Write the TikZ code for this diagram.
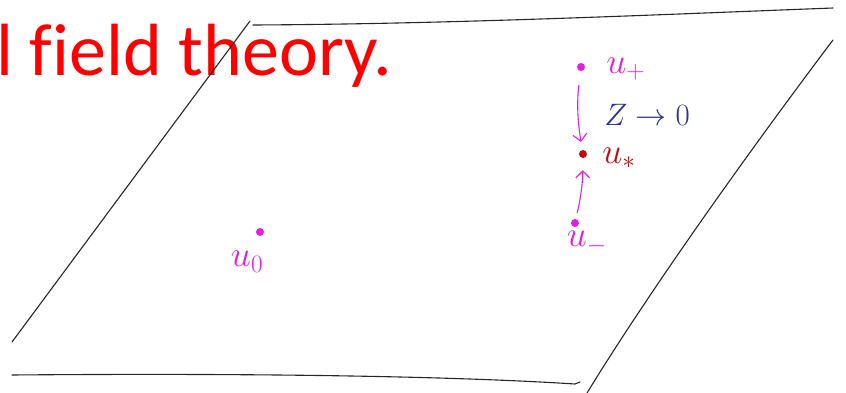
\documentclass[tikz,border=0pt]{standalone}
\usepackage{fix-cm}
\usepackage{fontspec}
\setmainfont{Carlito}[Ligatures=NoCommon]
\usetikzlibrary{arrows.meta,positioning}
\definecolor{titlered}{HTML}{FF0000}
\definecolor{pen}{HTML}{E41CE4}
\definecolor{fixred}{HTML}{B81010}
\definecolor{flowblue}{HTML}{2A3494}
\tikzset{
  dot/.style={circle,fill=pen,inner sep=0pt,minimum size=8pt},
  lbl/.style={text=pen,inner sep=1pt,font=\fontsize{36}{36}\selectfont},
  flow/.style={-{Straight Barb[length=7pt,width=14pt]},draw=pen,line width=1.1pt},
  rim/.style={draw=black!85,line width=1.1pt,line cap=round},
}

\begin{document}
\begin{tikzpicture}[x=1pt,y=-1pt]
\useasboundingbox (0,0) rectangle (846,393);
\node[anchor=base west,inner sep=0pt,text=titlered,font=\fontsize{74}{74}\selectfont] (title) at (-4,76) {l field theory.};
% the plane
\draw[rim] (250,21) -- (12,342);
\draw[rim] (253,25) .. controls (450,24) and (650,15) .. (833,8);
\draw[rim] (833,40) .. controls (750,150) and (650,290) .. (587,393);
\draw[rim] (12,375) .. controls (250,373) and (450,376) .. (575,384) -- (580,382);
% points
\node[dot] (up) at (581,67) {};
\node[lbl,right=20pt of up,yshift=-2pt] (upl) {$u_+$};
\node[dot,fill=fixred] (us) at (583,154) {};
\node[lbl,text=fixred,right=14pt of us,yshift=-4pt] (usl) {$u_*$};
\node[dot] (um) at (575,223) {};
\node[lbl,below=3pt of um,xshift=12pt] (uml) {$u_-$};
\node[dot] (uo) at (260,232) {};
\node[lbl,below=14pt of uo,xshift=-13pt] (uol) {$u_0$};
\node[text=flowblue,inner sep=1pt,font=\fontsize{31}{31}\selectfont] (zl) at (647,115) {$Z\to 0$};
\draw[flow,shorten <=14pt,shorten >=8pt] (up) to[bend right=8] (us);
\draw[flow,shorten <=6pt,shorten >=12pt] (um) to[bend right=6] (us);
\end{tikzpicture}
\end{document}
